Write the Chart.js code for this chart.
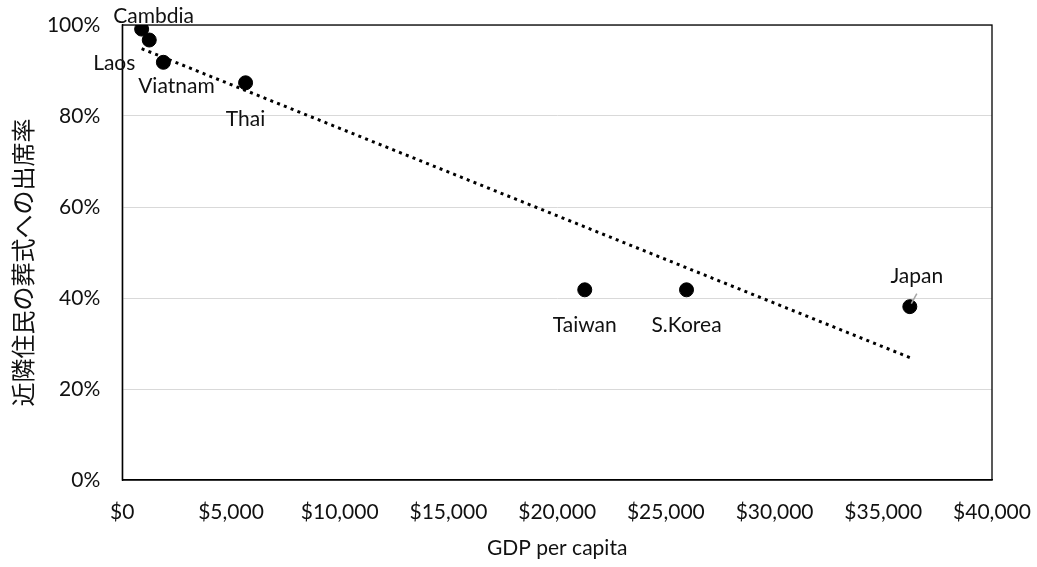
<!DOCTYPE html>
<html>
<head>
<meta charset="utf-8">
<title>GDP per capita vs funeral attendance</title>
<script src="https://cdn.jsdelivr.net/npm/chart.js@4.4.1/dist/chart.umd.min.js"></script>
<style>
  html, body { margin: 0; padding: 0; background: #ffffff; }
  #wrap { width: 1037px; height: 567px; }
</style>
</head>
<body>
<div id="wrap"><canvas id="chart" width="1037" height="567"></canvas></div>
<script>
// Countries and their values
const countries = ['Cambdia', 'Laos', 'Viatnam', 'Thai', 'Taiwan', 'S.Korea', 'Japan'];
const gdpPerCapita = [890, 1240, 1890, 5670, 21270, 25950, 36220];
const attendanceRate = [0.991, 0.967, 0.918, 0.873, 0.418, 0.418, 0.381];

// Axis ticks
const xTicks = [0, 5000, 10000, 15000, 20000, 25000, 30000, 35000, 40000];
const yTicks = [0, 0.2, 0.4, 0.6, 0.8, 1.0];

const yTitle = '近隣住民の葬式への出席率';
const xTitle = 'GDP per capita';

const LATIN = 'Lato, "Open Sans", "DejaVu Sans", sans-serif';
const CJK = '"Noto Sans CJK JP", "Noto Sans CJK SC", sans-serif';
const TEXT_SIZE = 21;

// Least-squares linear trendline over the data points
function linearFit(xs, ys) {
  const n = xs.length;
  const mx = xs.reduce((a, b) => a + b, 0) / n;
  const my = ys.reduce((a, b) => a + b, 0) / n;
  let sxy = 0, sxx = 0;
  for (let i = 0; i < n; i++) {
    sxy += (xs[i] - mx) * (ys[i] - my);
    sxx += (xs[i] - mx) * (xs[i] - mx);
  }
  const slope = sxy / sxx;
  return { slope, intercept: my - slope * mx };
}
const fit = linearFit(gdpPerCapita, attendanceRate);
const xMin = Math.min(...gdpPerCapita);
const xMax = Math.max(...gdpPerCapita);
const trendPoints = [
  { x: xMin, y: fit.intercept + fit.slope * xMin },
  { x: xMax, y: fit.intercept + fit.slope * xMax }
];

const points = gdpPerCapita.map((g, i) => ({ x: g, y: attendanceRate[i] }));

// Label placement around each marker (pixel offsets of the label centre)
const labelOffsets = {
  'Cambdia': [12, -13],
  'Laos': [-35, 23],
  'Viatnam': [13, 24],
  'Thai': [0, 36],
  'Taiwan': [0, 35],
  'S.Korea': [0, 35],
  'Japan': [7, -30]
};
const leaderLines = { 'Japan': [[7, -13], [1.5, -3]] };

const frameAndLabels = {
  id: 'frameAndLabels',
  beforeDatasetsDraw(chart) {
    const { ctx, chartArea: a } = chart;
    ctx.save();
    ctx.strokeStyle = '#000000';
    ctx.lineWidth = 1.3;
    ctx.strokeRect(a.left, a.top, a.right - a.left, a.bottom - a.top);
    ctx.restore();
  },
  afterDatasetsDraw(chart) {
    const { ctx, chartArea: a } = chart;
    const meta = chart.getDatasetMeta(1);
    ctx.save();
    ctx.font = TEXT_SIZE + 'px ' + LATIN;
    ctx.fillStyle = '#111111';
    ctx.textAlign = 'center';
    ctx.textBaseline = 'middle';
    meta.data.forEach((el, i) => {
      const name = countries[i];
      const off = labelOffsets[name] || [0, -20];
      if (leaderLines[name]) {
        const [p1, p2] = leaderLines[name];
        ctx.save();
        ctx.strokeStyle = '#a6a6a6';
        ctx.lineWidth = 1.5;
        ctx.beginPath();
        ctx.moveTo(el.x + p1[0], el.y + p1[1]);
        ctx.lineTo(el.x + p2[0], el.y + p2[1]);
        ctx.stroke();
        ctx.restore();
      }
      ctx.fillText(name, el.x + off[0], el.y + off[1]);
    });

    // Vertical axis title, rotated, sitting a little below the axis middle
    ctx.font = '24px ' + CJK;
    ctx.translate(23, (a.top + a.bottom) / 2 + 10);
    ctx.rotate(-Math.PI / 2);
    ctx.fillText(yTitle, 0, 0);
    ctx.restore();
  }
};

new Chart(document.getElementById('chart'), {
  type: 'scatter',
  data: {
    datasets: [
      {
        type: 'line',
        label: 'Linear trend',
        data: trendPoints,
        borderColor: '#000000',
        borderWidth: 3,
        borderDash: [3, 4.3],
        borderCapStyle: 'butt',
        pointRadius: 0,
        fill: false,
        tension: 0
      },
      {
        label: 'Attendance',
        data: points,
        backgroundColor: '#000000',
        borderColor: '#000000',
        pointRadius: 7,
        pointHoverRadius: 7
      }
    ]
  },
  options: {
    responsive: false,
    animation: false,
    events: [],
    layout: { padding: { top: 25, right: 45, left: 0, bottom: 0 } },
    plugins: {
      legend: { display: false },
      tooltip: { enabled: false }
    },
    scales: {
      x: {
        type: 'linear',
        min: 0,
        max: 40000,
        afterFit(scale) {
          scale.height = 87;
          scale.paddingLeft = 0;
          scale.paddingRight = 0;
        },
        afterBuildTicks(scale) { scale.ticks = xTicks.map(v => ({ value: v })); },
        grid: { display: false, drawTicks: false },
        border: { display: true, color: '#000000', width: 1.3 },
        ticks: {
          padding: 20,
          color: '#111111',
          font: { family: LATIN, size: TEXT_SIZE },
          maxRotation: 0,
          callback: v => '$' + Number(v).toLocaleString('en-US')
        },
        title: {
          display: true,
          text: xTitle,
          color: '#111111',
          font: { family: LATIN, size: TEXT_SIZE },
          padding: { top: 0, bottom: 6 }
        }
      },
      y: {
        type: 'linear',
        min: 0,
        max: 1,
        afterFit(scale) {
          scale.width = 122.3;
          scale.paddingTop = 0;
          scale.paddingBottom = 0;
        },
        afterBuildTicks(scale) { scale.ticks = yTicks.map(v => ({ value: v })); },
        grid: { color: '#d9d9d9', lineWidth: 1, drawTicks: false },
        border: { display: true, color: '#000000', width: 1.3 },
        ticks: {
          padding: 22,
          color: '#111111',
          font: { family: LATIN, size: TEXT_SIZE },
          callback: v => Math.round(v * 100) + '%'
        },
        title: { display: false }
      }
    }
  },
  plugins: [frameAndLabels]
});
</script>
</body>
</html>
